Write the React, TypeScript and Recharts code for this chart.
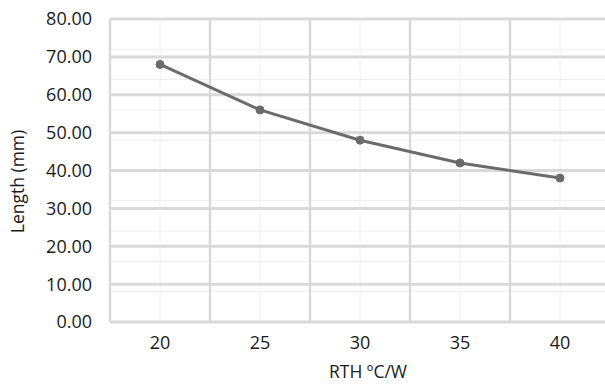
import React from 'react';
import { LineChart, Line, XAxis, YAxis, CartesianGrid } from 'recharts';

const rthValues = [20, 25, 30, 35, 40];
const lengthValues = [68, 56, 48, 42, 38];
const yTicks = [0, 10, 20, 30, 40, 50, 60, 70, 80];
const yMinor = [
  0, 2, 4, 6, 8, 10, 12, 14, 16, 18, 20, 22, 24, 26, 28, 30, 32, 34, 36, 38, 40,
  42, 44, 46, 48, 50, 52, 54, 56, 58, 60, 62, 64, 66, 68, 70, 72, 74, 76, 78, 80,
];
const xBounds = [17.5, 22.5, 27.5, 32.5, 37.5, 42.5];

const chartData = rthValues.map((rth, i) => ({ rth, length: lengthValues[i] }));

const font = '"Open Sans", "Noto Sans", sans-serif';

export default function App() {
  return (
    <div style={{ position: 'absolute', left: 0, top: 0, width: 605, height: 386, overflow: 'hidden', background: '#fff' }}>
      <LineChart
        width={620}
        height={386}
        data={chartData}
        margin={{ top: 19, right: 10, left: 0, bottom: 0 }}
      >
        {/* minor grid */}
        <CartesianGrid
          horizontalValues={yMinor}
          verticalValues={rthValues}
          stroke="#eeeeee"
          strokeWidth={1}
        />
        {/* major grid */}
        <CartesianGrid horizontalValues={yTicks} vertical={false} stroke="#d9d9d9" strokeWidth={3} />
        <CartesianGrid verticalValues={xBounds} horizontal={false} stroke="#d9d9d9" strokeWidth={2.5} />
        <XAxis
          dataKey="rth"
          type="number"
          domain={[17.5, 42.5]}
          ticks={rthValues}
          axisLine={false}
          tickLine={false}
          tickSize={0}
          tickMargin={14}
          height={64}
          tick={{ fontSize: 18, fill: '#1a1a1a', fontFamily: font }}
          label={{
            value: 'RTH ºC/W',
            position: 'insideBottom',
            offset: 8,
            dx: 8,
            style: { fontSize: 17.5, fill: '#1a1a1a', fontFamily: font },
          }}
        />
        <YAxis
          domain={[0, 80]}
          ticks={yTicks}
          axisLine={false}
          tickLine={false}
          tickSize={0}
          tickMargin={18}
          width={110}
          tickFormatter={(v: number) => v.toFixed(2)}
          tick={{ fontSize: 18, fill: '#1a1a1a', fontFamily: font }}
          label={{
            value: 'Length (mm)',
            angle: -90,
            position: 'center',
            dx: -37,
            dy: 11,
            style: { fontSize: 17.5, fill: '#1a1a1a', fontFamily: font, textAnchor: 'middle' },
          }}
        />
        <Line
          type="linear"
          dataKey="length"
          stroke="#6b6b6b"
          strokeWidth={3}
          dot={{ r: 4, fill: '#6b6b6b', stroke: '#6b6b6b', strokeWidth: 1 }}
          isAnimationActive={false}
        />
      </LineChart>
    </div>
  );
}
